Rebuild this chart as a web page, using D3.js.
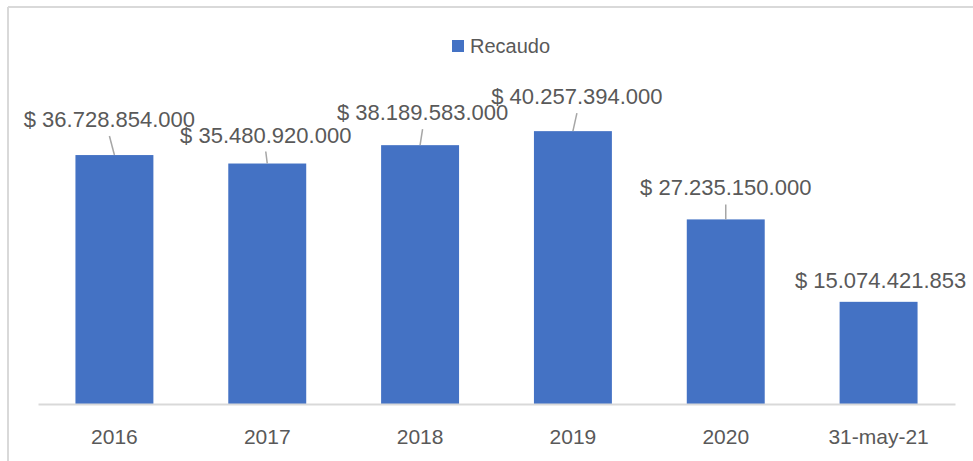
<!DOCTYPE html>
<html>
<head>
<meta charset="utf-8">
<script src="https://cdn.jsdelivr.net/npm/d3@7"></script>
<style>
  html, body { margin: 0; padding: 0; background: #fff; }
  svg { display: block; }
  text { font-family: "Liberation Sans", Arial, sans-serif; }
</style>
</head>
<body>
<svg id="chart" width="973" height="461"></svg>
<script>
// ---- data ----
const categories = ["2016", "2017", "2018", "2019", "2020", "31-may-21"];
const recaudo = [36728854000, 35480920000, 38189583000, 40257394000, 27235150000, 15074421853];
const seriesName = "Recaudo";
const labelTexts = ["$ 36.728.854.000", "$ 35.480.920.000", "$ 38.189.583.000", "$ 40.257.394.000", "$ 27.235.150.000", "$ 15.074.421.853"];

// label placement (layout only, relative to bar top / centre)
const labelDx = [-5, -1.5, 2.5, 4, 0, 2];
const labelDy = [-28, -21, -25, -27, -24, -14];

const svg = d3.select("#chart");
const W = 973, H = 461;
const barColor = "#4472C4";
const textColor = "#595959";

// chart frame (border partially visible)
svg.append("line").attr("x1", 8).attr("x2", W).attr("y1", 7).attr("y2", 7)
  .attr("stroke", "#d9d9d9").attr("stroke-width", 2);
svg.append("line").attr("x1", 8).attr("x2", 8).attr("y1", 7).attr("y2", H)
  .attr("stroke", "#d9d9d9").attr("stroke-width", 2);

const x = d3.scaleBand().domain(categories).range([38, 955]).paddingInner(0.49).paddingOuter(0.245);
const y = d3.scaleLinear().domain([0, 45000000000]).range([404, 99]);

// bars
svg.append("g").selectAll("rect").data(categories).join("rect")
  .attr("x", d => x(d))
  .attr("y", (d, i) => y(recaudo[i]))
  .attr("width", x.bandwidth())
  .attr("height", (d, i) => y(0) - y(recaudo[i]))
  .attr("fill", barColor);

// axis
const xAxis = svg.append("g").attr("transform", `translate(0,${y(0)})`)
  .call(d3.axisBottom(x).tickSize(0).tickPadding(0));
xAxis.select(".domain").attr("stroke", "#d9d9d9").attr("stroke-width", 2);
xAxis.selectAll("text").attr("dy", null).attr("y", 40)
  .attr("font-size", 21).attr("fill", textColor)
  .attr("font-family", "'Liberation Sans', Arial, sans-serif");

// data labels + leader lines
const lg = svg.append("g");
categories.forEach((c, i) => {
  const cx = x(c) + x.bandwidth() / 2;
  const top = y(recaudo[i]);
  const lx = cx + labelDx[i];
  const ly = top + labelDy[i];
  lg.append("text").attr("x", lx).attr("y", ly).attr("text-anchor", "middle")
    .attr("font-size", 22).attr("fill", textColor).text(labelTexts[i]);
  if (top - (ly + 9) > 8) {
    lg.append("line").attr("x1", lx).attr("y1", ly + 9).attr("x2", cx).attr("y2", top)
      .attr("stroke", "#a6a6a6").attr("stroke-width", 1.5);
  }
});

// legend
const leg = svg.append("g");
leg.append("rect").attr("x", 452).attr("y", 40).attr("width", 12).attr("height", 12).attr("fill", barColor);
leg.append("text").attr("x", 470).attr("y", 53).attr("font-size", 20).attr("fill", textColor).text(seriesName);
</script>
</body>
</html>
